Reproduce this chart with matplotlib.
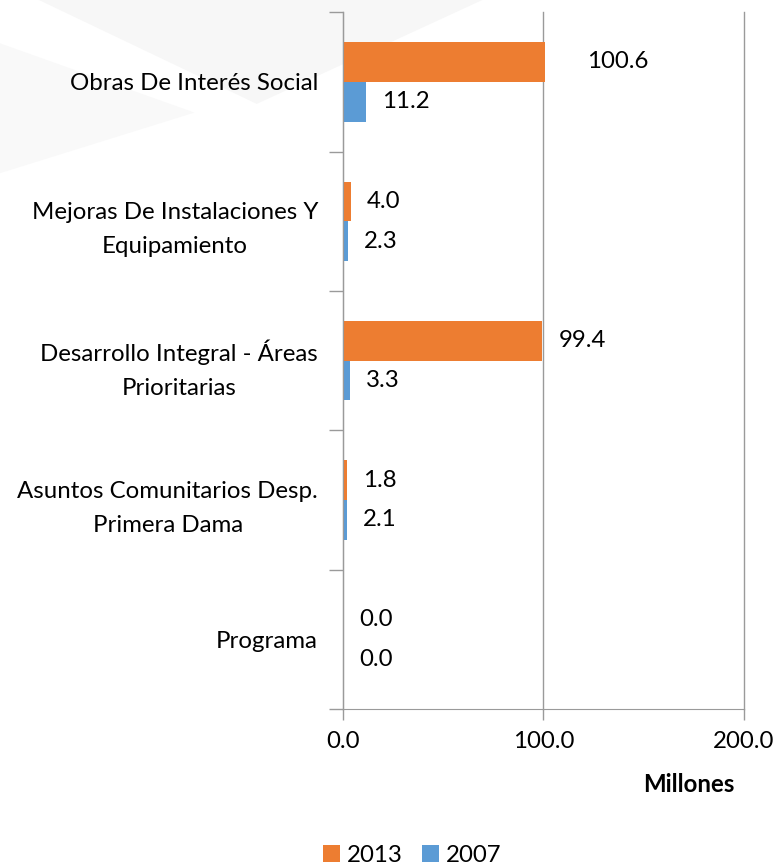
import matplotlib.pyplot as plt
from matplotlib.patches import Polygon
import numpy as np

plt.rcParams["font.family"] = ["Lato", "DejaVu Sans"]

categories = [
    "Obras De Interés Social",
    "Mejoras De Instalaciones Y\nEquipamiento",
    "Desarrollo Integral - Áreas\nPrioritarias",
    "Asuntos Comunitarios Desp.\nPrimera Dama",
    "Programa",
]
values_2013 = [100.6, 4.0, 99.4, 1.8, 0.0]
values_2007 = [11.2, 2.3, 3.3, 2.1, 0.0]
xticks = [0, 100, 200]

orange = "#ED7D31"
blue = "#5B9BD5"
grid = "#9a9a9a"
fs = 17.3

fig = plt.figure(figsize=(7.78, 8.66), dpi=100)

# faint background watermark
bg = fig.add_axes([0, 0, 1, 1], zorder=-1)
bg.set_xlim(0, 1)
bg.set_ylim(0, 1)
bg.axis("off")
bg.add_patch(Polygon([[0.05, 1], [0.62, 1], [0.33, 0.88]], closed=True, color="#f7f7f7", lw=0))
bg.add_patch(Polygon([[0, 0.95], [0.25, 0.87], [0, 0.80]], closed=True, color="#f9f9f9", lw=0))

ax = fig.add_axes([0.441, 0.181, 0.515, 0.805])
ax.patch.set_alpha(0)

y = np.arange(len(categories))
h = 0.285
ax.barh(y - h / 2, values_2013, height=h, color=orange, label="2013", zorder=3)
ax.barh(y + h / 2, values_2007, height=h, color=blue, label="2007", zorder=3)

for yi, v in zip(y - h / 2, values_2013):
    off = 21 if 100 <= v < 110 else 8.0
    ax.text(v + off, yi, f"{v:.1f}", va="center", ha="left", fontsize=fs)
for yi, v in zip(y + h / 2, values_2007):
    ax.text(v + 8.0, yi, f"{v:.1f}", va="center", ha="left", fontsize=fs)

ax.set_xlim(0, 200)
ax.set_ylim(len(categories) - 0.5, -0.5)
ax.set_xticks(xticks)
ax.set_xticklabels([f"{t:.1f}" for t in xticks], fontsize=fs)
ax.set_yticks(y)
ax.set_yticklabels(categories, fontsize=fs)
for lab in ax.get_yticklabels():
    lab.set_multialignment("center")
    lab.set_linespacing(1.75)
ax.set_yticks(np.arange(-0.5, len(categories)), minor=True)
ax.tick_params(axis="y", which="major", length=0, pad=18)
ax.tick_params(axis="y", which="minor", length=10, color=grid, width=1)
ax.tick_params(axis="x", length=8, color=grid, width=1, pad=8)
ax.xaxis.grid(True, color=grid, lw=1, zorder=0)
for line in ax.get_xgridlines():
    line.set_clip_on(False)
for s in ["top", "right"]:
    ax.spines[s].set_visible(False)
for s in ["left", "bottom"]:
    ax.spines[s].set_color(grid)
    ax.spines[s].set_zorder(4)

fig.text(0.885, 0.094, "Millones", fontsize=fs, fontweight="bold", ha="center", va="center")

fig.legend(loc="center", bbox_to_anchor=(0.53, 0.012), ncol=2, frameon=False,
           fontsize=fs, handlelength=0.7, handleheight=0.7, handletextpad=0.3,
           columnspacing=0.8)

fig.savefig("out.png", dpi=100)
